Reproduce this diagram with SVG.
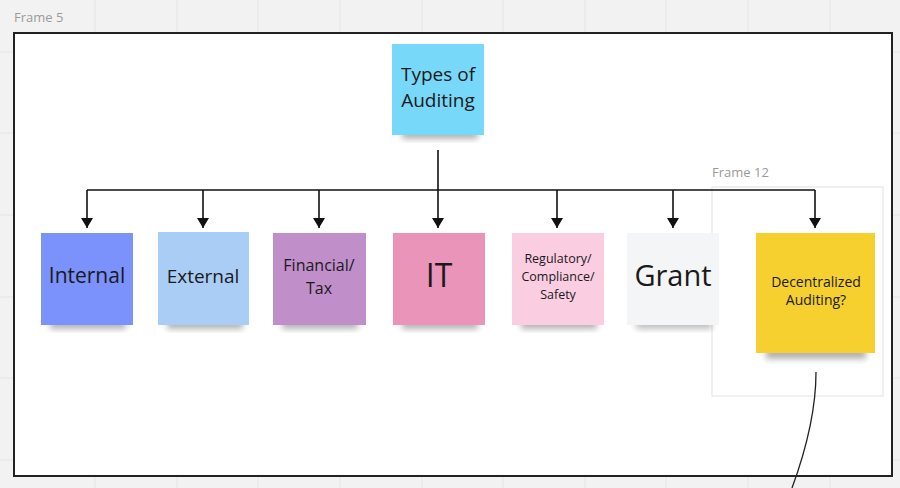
<svg xmlns="http://www.w3.org/2000/svg" width="900" height="488" viewBox="0 0 900 488">
<defs>
<style>
.t{font-family:"Open Sans","Liberation Sans",sans-serif;fill:#1a1a1a;text-anchor:middle}
.fl{font-family:"Open Sans","Liberation Sans",sans-serif;fill:#9a9a9a;font-size:13px}
.g{stroke:#e4e4e4;stroke-width:1}
.c{stroke:#111;stroke-width:1.6;fill:none}
</style>
<marker id="ah" viewBox="0 0 10 12" refX="10" refY="6" markerWidth="10" markerHeight="12" markerUnits="userSpaceOnUse" orient="auto">
<path d="M0,0 L10,6 L0,12 Z" fill="#111"/>
</marker>
<filter id="sh" x="-20%" y="-20%" width="140%" height="160%">
<feGaussianBlur stdDeviation="3"/>
</filter>
</defs>
<rect width="900" height="488" fill="#f2f2f2"/>
<g id="grid">
<line class="g" x1="95" y1="0" x2="95" y2="488"/>
<line class="g" x1="177" y1="0" x2="177" y2="488"/>
<line class="g" x1="258" y1="0" x2="258" y2="488"/>
<line class="g" x1="340" y1="0" x2="340" y2="488"/>
<line class="g" x1="422" y1="0" x2="422" y2="488"/>
<line class="g" x1="503" y1="0" x2="503" y2="488"/>
<line class="g" x1="585" y1="0" x2="585" y2="488"/>
<line class="g" x1="666" y1="0" x2="666" y2="488"/>
<line class="g" x1="748" y1="0" x2="748" y2="488"/>
<line class="g" x1="830" y1="0" x2="830" y2="488"/>
<line class="g" x1="0" y1="52" x2="900" y2="52"/>
<line class="g" x1="0" y1="133" x2="900" y2="133"/>
<line class="g" x1="0" y1="215" x2="900" y2="215"/>
<line class="g" x1="0" y1="297" x2="900" y2="297"/>
<line class="g" x1="0" y1="378" x2="900" y2="378"/>
<line class="g" x1="0" y1="460" x2="900" y2="460"/>
</g>
<g id="frame5">
<text class="fl" x="14" y="22">Frame 5</text>
<rect x="14" y="33" width="878" height="443" fill="#ffffff" stroke="#222" stroke-width="2"/>
</g>
<g id="frame12">
<text class="fl" x="712" y="177">Frame 12</text>
<rect x="712" y="187" width="171" height="209" fill="none" stroke="#e2e2e2" stroke-width="1"/>
</g>
<g id="connectors">
<line class="c" x1="438" y1="150" x2="438" y2="190"/>
<line class="c" x1="87" y1="190" x2="815" y2="190"/>
<line class="c" x1="87" y1="190" x2="87" y2="228" marker-end="url(#ah)"/>
<line class="c" x1="203" y1="190" x2="203" y2="228" marker-end="url(#ah)"/>
<line class="c" x1="319" y1="190" x2="319" y2="228" marker-end="url(#ah)"/>
<line class="c" x1="438" y1="190" x2="438" y2="228" marker-end="url(#ah)"/>
<line class="c" x1="557" y1="190" x2="557" y2="228" marker-end="url(#ah)"/>
<line class="c" x1="673" y1="190" x2="673" y2="228" marker-end="url(#ah)"/>
<line class="c" x1="815" y1="190" x2="815" y2="228" marker-end="url(#ah)"/>
<path d="M816,372 C816,410 806,450 792,488" stroke="#222" stroke-width="1.3" fill="none"/>
</g>
<g id="types">
<rect x="402" y="129" width="76" height="10" fill="#000" opacity="0.3" filter="url(#sh)"/>
<rect x="392" y="44" width="92" height="91" fill="#78d8f9"/>
<text class="t" font-size="19" x="438" y="81">Types of</text>
<text class="t" font-size="19" x="438" y="107">Auditing</text>
</g>
<g id="internal">
<rect x="50" y="319" width="76" height="10" fill="#000" opacity="0.3" filter="url(#sh)"/>
<rect x="41" y="233" width="92" height="92" fill="#7b91fb"/>
<text class="t" font-size="21" x="87" y="283">Internal</text>
</g>
<g id="external">
<rect x="167" y="319" width="76" height="10" fill="#000" opacity="0.3" filter="url(#sh)"/>
<rect x="158" y="232" width="91" height="93" fill="#aacdf5"/>
<text class="t" font-size="19" x="203" y="283">External</text>
</g>
<g id="financial">
<rect x="282" y="319" width="76" height="10" fill="#000" opacity="0.3" filter="url(#sh)"/>
<rect x="273" y="233" width="93" height="92" fill="#c08fca"/>
<text class="t" font-size="16" x="319" y="271">Financial/</text>
<text class="t" font-size="16" x="319" y="294">Tax</text>
</g>
<g id="it">
<rect x="402" y="319" width="76" height="10" fill="#000" opacity="0.3" filter="url(#sh)"/>
<rect x="393" y="233" width="92" height="92" fill="#ea94ba"/>
<text class="t" font-size="32" x="439" y="287">IT</text>
</g>
<g id="regulatory">
<rect x="521" y="319" width="76" height="10" fill="#000" opacity="0.3" filter="url(#sh)"/>
<rect x="512" y="233" width="92" height="92" fill="#fbcde1"/>
<text class="t" font-size="12.5" x="558" y="263">Regulatory/</text>
<text class="t" font-size="12.5" x="558" y="281">Compliance/</text>
<text class="t" font-size="12.5" x="558" y="299">Safety</text>
</g>
<g id="grant">
<rect x="636" y="319" width="76" height="10" fill="#000" opacity="0.25" filter="url(#sh)"/>
<rect x="627" y="233" width="92" height="92" fill="#f3f5f7"/>
<text class="t" font-size="29" x="673" y="286">Grant</text>
</g>
<g id="decentralized">
<rect x="766" y="347" width="100" height="12" fill="#000" opacity="0.3" filter="url(#sh)"/>
<rect x="756" y="233" width="119" height="120" fill="#f5d02f"/>
<text class="t" font-size="14" x="816" y="287">Decentralized</text>
<text class="t" font-size="14" x="816" y="305">Auditing?</text>
</g>
</svg>
